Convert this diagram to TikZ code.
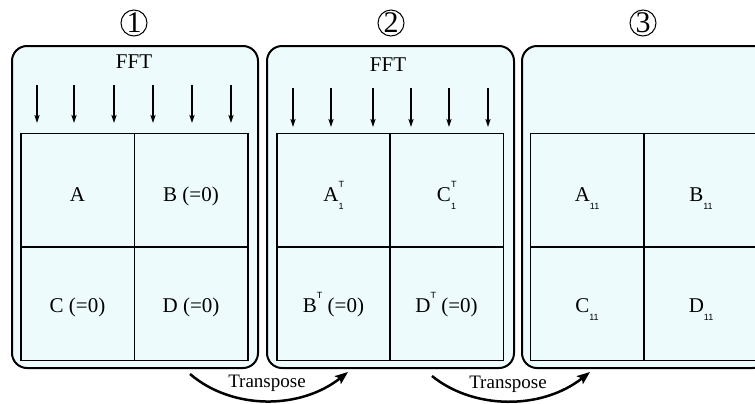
\documentclass[tikz,border=0pt]{standalone}
\usepackage{fontspec}
\setmainfont{Liberation Serif}
\newfontfamily\scriptsans{Liberation Sans}
\usetikzlibrary{arrows.meta}
\definecolor{panelfill}{RGB}{238,251,252}
% small sans-serif indices
\newcommand{\idxfont}{\scriptsans\fontsize{4.5}{5}\selectfont}
\newcommand{\supTz}{\makebox[0pt][l]{\raisebox{1.45ex}{\idxfont T}}}
\newcommand{\supT}{\raisebox{1.45ex}{\idxfont T}}
\newcommand{\subs}[1]{\raisebox{-0.8ex}{\idxfont #1}}
\begin{document}
\begin{tikzpicture}[x=0.5pt,y=-0.5pt,
  panel/.style={draw, line width=1pt, rounded corners=7.5pt, fill=panelfill,
    minimum height=161pt, inner sep=0pt},
  cell/.style={draw, line width=0.75pt, fill=panelfill, minimum width=56.75pt,
    minimum height=56.75pt, inner sep=0pt, text height=9pt, text depth=0pt,
    font=\fontsize{10.5}{12}\selectfont},
  toprow/.style={text height=11.5pt},
  stepnum/.style={draw, circle, line width=0.5pt, minimum size=13pt, inner sep=0pt,
    font=\fontsize{15}{15}\selectfont},
  ffttext/.style={font=\fontsize{10.5}{12}\selectfont},
  fftarrow/.style={line width=0.6pt, -{Stealth[length=4pt, width=2.6pt, inset=0.8pt]}},
  transarrow/.style={line width=1.25pt, -{Stealth[length=6.5pt, width=5pt, inset=1.3pt]}},
  translabel/.style={font=\fontsize{9.5}{11}\selectfont}]
\useasboundingbox (0,0) rectangle (755,403);
\clip (0,0) rectangle (755,403);

% step numbers
\node[stepnum] (n1) at (134,23) {1};
\node[stepnum] (n2) at (391,23) {2};
\node[stepnum] (n3) at (643,23) {3};

% panels
\node[panel, minimum width=123pt] (p1) at (135,207) {};
\node[panel, minimum width=123.5pt] (p2) at (390.5,207) {};
\node[panel, minimum width=123pt] (p3) at (645,207) {};

% FFT labels
\node[ffttext] (f1) at (134,62) {FFT};
\node[ffttext] (f2) at (388,65) {FFT};

% column FFT arrows
\foreach \x [count=\i] in {37,74,114,153,192,231}{
  \coordinate (a\i) at (\x,85);
  \coordinate (b\i) at (\x,123);
  \draw[fftarrow] (a\i) -- (b\i);
}
\foreach \x [count=\i] in {293,331,373,411,449,488}{
  \coordinate (c\i) at (\x,88);
  \coordinate (d\i) at (\x,127);
  \draw[fftarrow] (c\i) -- (d\i);
}

% block matrices, step 1
\node[cell, toprow] (A1) at (77.5,190) {A};
\node[cell, toprow] (B1) at (191,190) {B (=0)};
\node[cell] (C1) at (77.5,303.5) {C (=0)};
\node[cell] (D1) at (191,303.5) {D (=0)};

% step 2
\node[cell, toprow] (A2) at (333.5,190) {A\supTz\subs{1}};
\node[cell, toprow] (C2) at (446.5,190) {C\supTz\subs{1}};
\node[cell] (B2) at (333.5,303.5) {B\supT\ (=0)};
\node[cell] (D2) at (446.5,303.5) {D\supT\ (=0)};

% step 3
\node[cell, toprow] (A3) at (587,190) {A\subs{11}};
\node[cell, toprow] (B3) at (701,190) {B\subs{11}};
\node[cell] (C3) at (587,303.5) {C\subs{11}};
\node[cell] (D3) at (701,303.5) {D\subs{11}};

% transpose steps
\coordinate (t1s) at (190,374);
\coordinate (t1e) at (348,372);
\coordinate (t2s) at (432,376);
\coordinate (t2e) at (590,372);
\draw[transarrow] (t1s) .. controls (232,410) and (300,410) .. (t1e);
\draw[transarrow] (t2s) .. controls (474,410) and (542,410) .. (t2e);
\node[translabel] (l1) at (267,383) {Transpose};
\node[translabel] (l2) at (508,384) {Transpose};
\end{tikzpicture}
\end{document}
